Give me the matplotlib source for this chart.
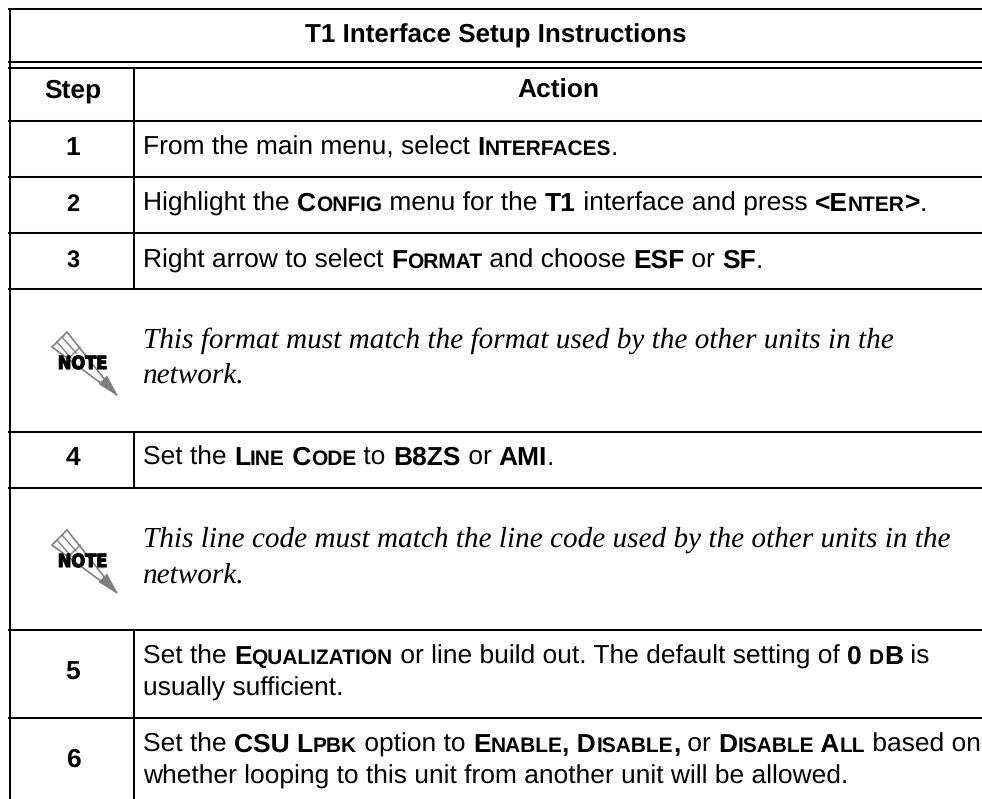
import matplotlib
matplotlib.use("Agg")
import matplotlib.pyplot as plt
from matplotlib.patches import Polygon
import matplotlib.patheffects as pe

plt.rcParams["text.hinting"] = "no_hinting"
plt.rcParams["text.hinting_factor"] = 8

W, H = 982, 799
SANS = "Liberation Sans"
SERIF = "Liberation Serif"

title = "T1 Interface Setup Instructions"
header = ["Step", "Action"]
step_labels = ["1", "2", "3", "4", "5", "6"]
step_y = [155, 211, 268, 465, 680, 767]
step_size = [19, 17, 17, 19, 19, 19]

# segments: (text, style); r=regular, b=bold, s=bold small caps
action_rows = [
    (155, [("From the main menu, select ", "r"), ("Interfaces", "s"), (".", "r")]),
    (211, [("Highlight the ", "r"), ("Config", "s"), (" menu for the ", "r"), ("T1", "b"),
           (" interface and press ", "r"), ("<Enter>", "s"), (".", "r")]),
    (268, [("Right arrow to select ", "r"), ("Format", "s"), (" and choose ", "r"), ("ESF", "b"),
           (" or ", "r"), ("SF", "b"), (".", "r")]),
    (465, [("Set the ", "r"), ("Line Code", "s"), (" to ", "r"), ("B8ZS", "b"), (" or ", "r"),
           ("AMI", "b"), (".", "r")]),
    (664, [("Set the ", "r"), ("Equalization", "s"), (" or line build out. The default setting of ", "r"),
           ("0 ", "b"), ("dB", "s"), (" is", "r")]),
    (696, [("usually sufficient.", "r")]),
    (752, [("Set the ", "r"), ("CSU Lpbk", "s"), (" option to ", "r"), ("Enable, Disable,", "s"),
           (" or ", "r"), ("Disable All", "s"), (" based on", "r")]),
    (784, [("whether looping to this unit from another unit will be allowed.", "r")]),
]
note_rows = [
    ("This format must match the format used by the other units in the", 348),
    ("network.", 383),
    ("This line code must match the line code used by the other units in the", 547),
    ("network.", 583),
]
note_icon_y = [332, 530]

h_rules = [9, 62, 68, 121, 177, 233, 289, 432, 488, 630, 718]
col_rows = [(68, 289), (432, 488), (630, 799)]
LEFT, COL = 10, 134

fig = plt.figure(figsize=(W / 100, H / 100), dpi=100)
ax = fig.add_axes([0, 0, 1, 1])
ax.set_xlim(0, W)
ax.set_ylim(H, 0)
ax.axis("off")

for y in h_rules:
    ax.plot([8, W], [y, y], color="black", lw=1.45, solid_capstyle="butt")
ax.plot([LEFT, LEFT], [9, H], color="black", lw=1.45, solid_capstyle="butt")
for y0, y1 in col_rows:
    ax.plot([COL, COL], [y0, y1], color="black", lw=1.45, solid_capstyle="butt")

ax.text(496, 43, title, family=SANS, weight="bold", fontsize=18.7, ha="center", va="baseline")
ax.text(73, 98, header[0], family=SANS, weight="bold", fontsize=19, ha="center", va="baseline")
ax.text(558, 98, header[1], family=SANS, weight="bold", fontsize=19, ha="center", va="baseline")
for s, y, sz in zip(step_labels, step_y, step_size):
    ax.text(73, y, s, family=SANS, weight="bold", fontsize=sz, ha="center", va="baseline")

BODY = 19.0
renderer = fig.canvas.get_renderer()


def put(x, y, text, size, weight):
    ax.text(x, y, text, family=SANS, fontsize=size, weight=weight, va="baseline", ha="left")
    probe = ax.text(0, 0, "|" + text + "|", family=SANS, fontsize=size, weight=weight)
    bar = ax.text(0, 0, "||", family=SANS, fontsize=size, weight=weight)
    adv = probe.get_window_extent(renderer).width - bar.get_window_extent(renderer).width
    probe.remove()
    bar.remove()
    return x + adv


def smallcaps(x, y, text):
    i = 0
    while i < len(text):
        j = i
        low = text[i].islower()
        while j < len(text) and text[j].islower() == low:
            j += 1
        run = text[i:j]
        x = put(x, y, run.upper() if low else run, BODY * 0.79 if low else BODY, "bold")
        i = j
    return x


for base, segs in action_rows:
    x = 143
    for txt, style in segs:
        if style == "r":
            x = put(x, base, txt, BODY, "normal")
        elif style == "b":
            x = put(x, base, txt, BODY, "bold")
        else:
            x = smallcaps(x, base, txt)

for txt, y in note_rows:
    ax.text(143, y, txt, family=SERIF, style="italic", fontsize=21.1, va="baseline", ha="left")

GREY = "#7f7f7f"
for y0 in note_icon_y:
    dx, dy = 52, y0
    outline = [(0, 15), (15, 0), (65, 63)]
    ax.add_patch(Polygon([(a + dx, b + dy) for a, b in outline], closed=True, fc="white", ec=GREY, lw=1.2, zorder=3))
    ax.add_patch(Polygon([(47 + dx, 52 + dy), (55 + dx, 44 + dy), (65 + dx, 63 + dy)], closed=True, fc=GREY, ec=GREY, lw=0.5, zorder=3))
    for k in (1 / 3, 2 / 3):
        ax.plot([dx + 15 * k, dx + 15 * k + 14], [dy + 15 - 15 * k, dy + 15 - 15 * k + 16], color=GREY, lw=1.0, zorder=3)
    ax.plot([dx + 13, dx + 28], [dy + 30, dy + 15], color=GREY, lw=1.0, zorder=3)
    ax.text(dx + 30.5, dy + 37, "NOTE", family="DejaVu Sans", stretch="condensed", weight="bold",
            fontsize=13, ha="center", va="baseline", color="black", zorder=4,
            path_effects=[pe.withStroke(linewidth=0.8, foreground="black")])

fig.savefig("out.png", dpi=100)
